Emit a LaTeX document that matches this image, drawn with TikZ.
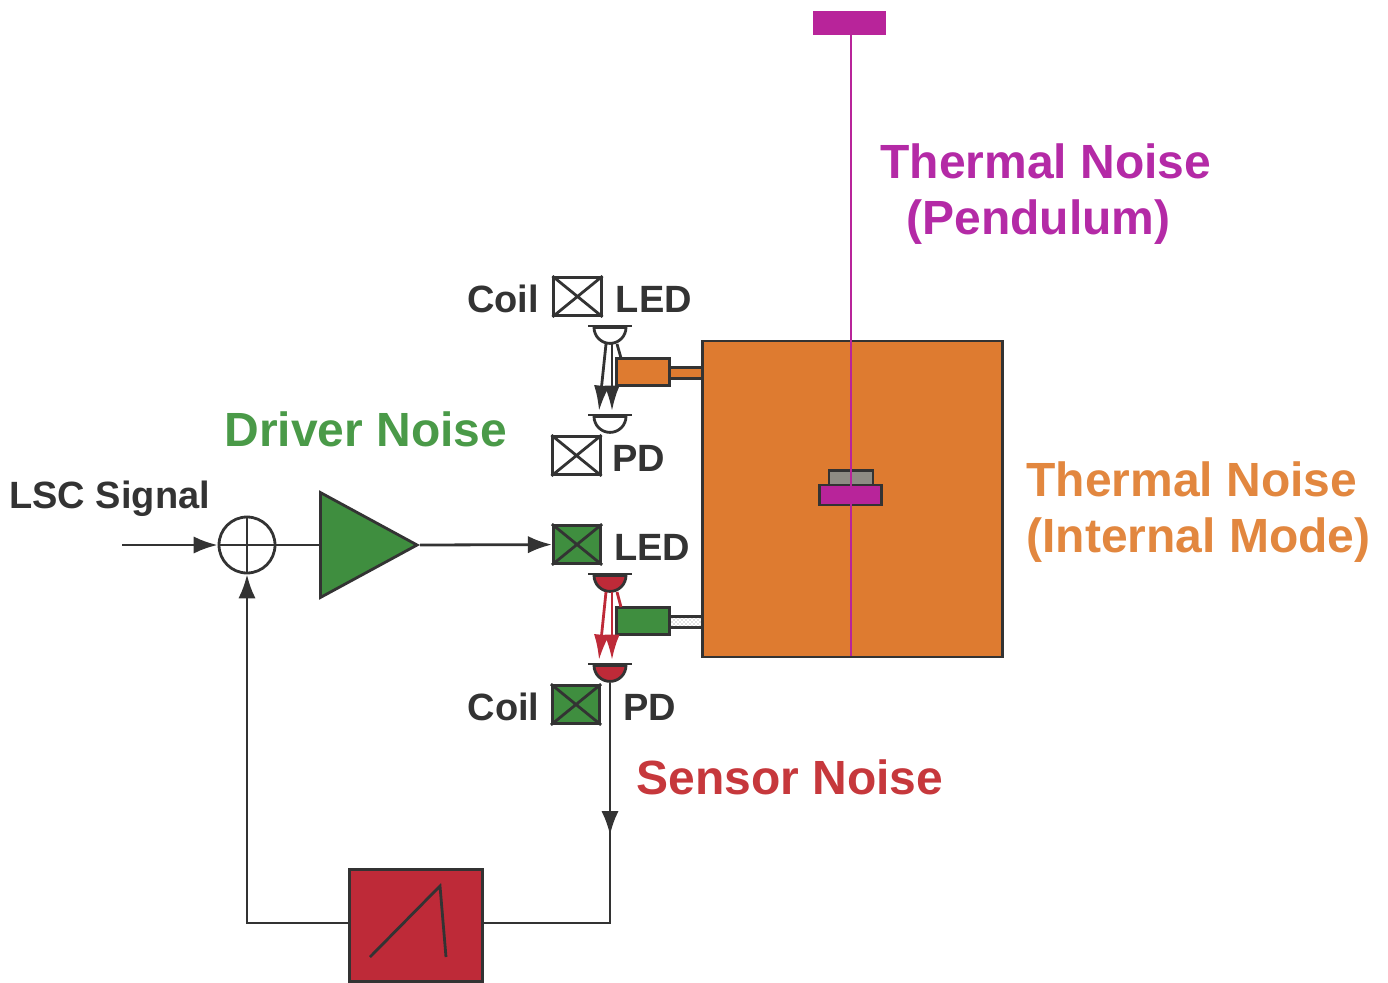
\documentclass[tikz,border=0pt]{standalone}
\usepackage{fontspec}
\setmainfont{Liberation Sans}
\usetikzlibrary{arrows.meta,patterns,positioning,shapes.geometric}
\definecolor{inkgrey}{HTML}{333333}
\definecolor{massorange}{HTML}{DE7B30}
\definecolor{wiremagenta}{HTML}{B8249A}
\definecolor{drivegreen}{HTML}{3F8E3F}
\definecolor{sensered}{HTML}{BE2A38}
\definecolor{textorange}{HTML}{E2873F}
\definecolor{textgreen}{HTML}{4A9A48}
\definecolor{textred}{HTML}{C6383C}
\definecolor{textmagenta}{HTML}{B42AA6}
\definecolor{stipple}{HTML}{D4D4CC}
\definecolor{stackgrey}{HTML}{8E8C84}
\begin{document}
\begin{tikzpicture}[x=0.75pt,y=-0.75pt,>={Latex[length=18pt,width=13pt]},
        line width=2.1pt,draw=inkgrey,
        beam tip/.style={>={Latex[length=19pt,width=11.5pt]}},
        label text/.style={font=\fontsize{28.5}{30}\selectfont\bfseries,text=inkgrey,inner sep=0pt,yshift=-2pt},
        noise text/.style={font=\fontsize{36}{40}\selectfont\bfseries,inner sep=0pt,anchor=west},
        coil box/.style={rectangle,draw,minimum width=35.5pt,minimum height=28.5pt,inner sep=0pt},
        magnet/.style={rectangle,draw,minimum width=40pt,minimum height=20pt,inner sep=0pt},
        rod/.style={rectangle,draw,minimum width=24pt,minimum height=8.5pt,inner sep=0pt},
        dome/.style={semicircle,draw,shape border rotate=180,inner sep=0pt,minimum width=24pt,minimum height=11pt,anchor=chord center},
        lip/.style={rectangle,fill=inkgrey,minimum width=33pt,minimum height=2pt,inner sep=0pt}]
        \useasboundingbox (0,0) rectangle (1388,982);
        % suspension and test mass
        \node[rectangle,fill=wiremagenta,minimum width=55pt,minimum height=18pt,inner sep=0pt] (top) at (849.5,23) {};
        \node[rectangle,draw,fill=massorange,minimum width=225pt,minimum height=237pt,inner sep=0pt] (mass) at (852.5,499) {};
        \node[rectangle,draw,fill=stackgrey,minimum width=33pt,minimum height=11pt,inner sep=0pt] (stack) at (851,478) {};
        \node[rectangle,draw,fill=wiremagenta,minimum width=46pt,minimum height=15pt,inner sep=0pt] (clamp) at (850.5,495) {};
        \coordinate (wire top) at (851,35);
        \coordinate (wire end) at (851,656);
        \draw[line width=2pt,wiremagenta] (wire top) -- (wire end);
        % upper head
        \node[coil box] (coil1) at (577.5,296.5) {};
        \draw (coil1.north west) -- (coil1.south east) (coil1.south west) -- (coil1.north east);
        \node[label text,left=9pt of coil1] (coil1 text) {Coil};
        \node[label text,right=9pt of coil1] (led1 text) {LED};
        \node[dome] (led1) at (610,326) {};
        \node[lip] (led1 lip) at (610,326) {};
        \node[rod,fill=massorange] (rod1) at (686,373) {};
        \node[magnet,fill=massorange] (mag1) at (643,372) {};
        \node[dome] (pd1) at (610,415) {};
        \node[lip] (pd1 lip) at (610,415) {};
        \node[coil box] (coil2) at (576.5,455.5) {};
        \draw (coil2.north west) -- (coil2.south east) (coil2.south west) -- (coil2.north east);
        \node[label text,right=7pt of coil2] (pd1 text) {PD};
        \coordinate (beam1a) at (606,344);
        \coordinate (beam1b) at (599,411);
        \coordinate (beam1c) at (612,344);
        \coordinate (beam1d) at (612,411);
        \coordinate (beam1e) at (617,344);
        \coordinate (beam1f) at (621,358);
        \draw[->,beam tip] (beam1a) -- (beam1b);
        \draw[->,beam tip] (beam1c) -- (beam1d);
        \draw (beam1e) -- (beam1f);
        % lower head
        \node[coil box,fill=drivegreen] (coil3) at (577,544.5) {};
        \draw (coil3.north west) -- (coil3.south east) (coil3.south west) -- (coil3.north east);
        \node[label text,right=8pt of coil3] (led2 text) {LED};
        \node[dome,fill=sensered] (led2) at (610,574) {};
        \node[lip] (led2 lip) at (610,574) {};
        \node[rod,fill=stipple,pattern=crosshatch dots,pattern color=gray] (rod2) at (686,622) {};
        \node[magnet,fill=drivegreen] (mag2) at (643,621) {};
        \node[dome,fill=sensered] (pd2) at (610,664) {};
        \node[lip] (pd2 lip) at (610,664) {};
        \node[coil box,fill=drivegreen] (coil4) at (576,704.5) {};
        \draw (coil4.north west) -- (coil4.south east) (coil4.south west) -- (coil4.north east);
        \node[label text,left=7.5pt of coil4] (coil4 text) {Coil};
        \node[label text,right=15.5pt of coil4] (pd2 text) {PD};
        \coordinate (beam2a) at (606,592);
        \coordinate (beam2b) at (599,660);
        \coordinate (beam2c) at (612,592);
        \coordinate (beam2d) at (612,660);
        \coordinate (beam2e) at (617,592);
        \coordinate (beam2f) at (621,607);
        \draw[->,beam tip,sensered] (beam2a) -- (beam2b);
        \draw[->,beam tip,sensered] (beam2c) -- (beam2d);
        \draw[sensered] (beam2e) -- (beam2f);
        % servo loop
        \node[circle,draw,minimum size=42pt,inner sep=0pt] (sum) at (247,545) {};
        \draw[line width=1.6pt] (sum.north) -- (sum.south) (sum.west) -- (sum.east);
        \node[isosceles triangle,isosceles triangle apex angle=57,draw,fill=drivegreen,inner sep=0pt,minimum height=72.5pt,anchor=apex] (amp) at (420,545) {};
        \node[rectangle,draw,fill=sensered,minimum width=100pt,minimum height=84pt,inner sep=0pt] (filter) at (416,925.5) {};
        \coordinate (ramp a) at (370,957);
        \coordinate (ramp b) at (440,886);
        \coordinate (ramp c) at (446,957);
        \draw (ramp a) -- (ramp b) -- (ramp c);
        \coordinate (input) at (122,545);
        \coordinate (corner r) at (610,923);
        \coordinate (corner l) at (247,923);
        \coordinate (mid r) at (610,835);
        \draw[->] (input) -- (sum);
        \draw (sum) -- (amp.west);
        \draw[->] (amp.apex) -- (coil3);
        \draw (pd2.apex) -- (corner r) -- (filter.east |- corner r);
        \draw[->] (pd2.apex) -- (mid r);
        \draw[->] (filter.west |- corner l) -- (corner l) -- (sum);
        % labels
        \node[label text,anchor=west] (lsc) at (8,496) {LSC Signal};
        \node[noise text,text=textgreen] (driver) at (223,429) {Driver Noise};
        \node[noise text,text=textred] (sensor) at (635,777) {Sensor Noise};
        \node[noise text,text=textmagenta] (pend1) at (879,161) {Thermal Noise};
        \node[noise text,text=textmagenta] (pend2) at (905,222) {(Pendulum)};
        \node[noise text,text=textorange] (int1) at (1025,479) {Thermal Noise};
        \node[noise text,text=textorange] (int2) at (1025,540) {(Internal Mode)};
        \end{tikzpicture}
\end{document}
